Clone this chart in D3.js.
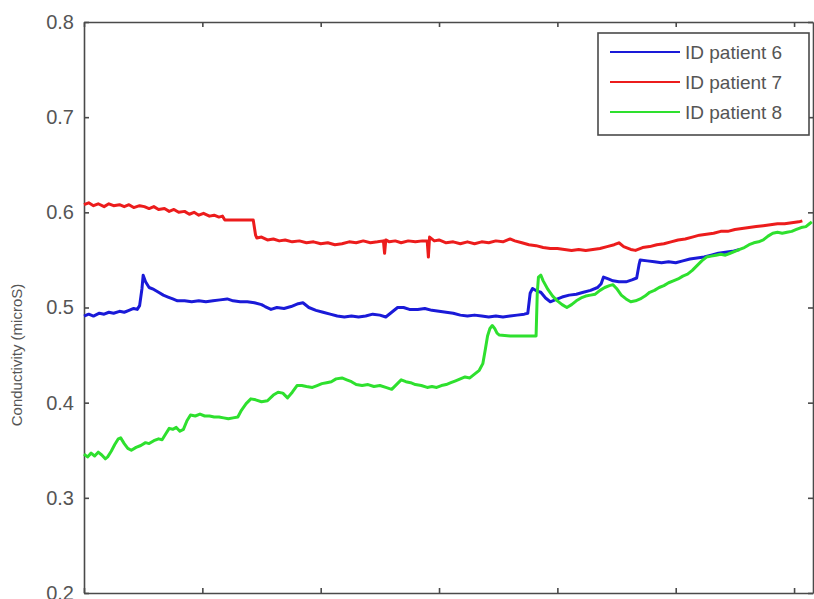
<html lang="en">
<head>
<meta charset="utf-8">
<style>
	body { margin: 0; background: #fff; }
	svg { display: block; font-family: "Liberation Sans", Arial, sans-serif; }
	.axis path, .axis line { stroke: #4a4a4a; stroke-width: 1.6; }
	.axis text { fill: #555; font-size: 20px; }
</style>
</head>
<body>
<svg width="814" height="599"></svg>
<script src="https://d3js.org/d3.v7.min.js"></script>
<script>
	// y ticks and legend
	var yTicks = [0.2, 0.3, 0.4, 0.5, 0.6, 0.7, 0.8];
	var xTicks = [0, 100, 200, 300, 400, 500, 600];
	var seriesNames = ["ID patient 6", "ID patient 7", "ID patient 8"];
	var seriesColors = ["#1a1ad8", "#ec1c1c", "#2ee02e"];

	// patient 6 (blue) [sample, conductivity]
	var patient6 = [
		[0,0.491],[4,0.493],[8,0.491],[13,0.494],[17,0.493],[21,0.495],[25,0.494],[30,0.496],[34,0.495],[38,0.497],
		[42,0.499],[45,0.498],[47,0.502],[49,0.520],[50,0.534],[52,0.527],[55,0.521],[59,0.519],[63,0.516],[67,0.513],
		[71,0.511],[75,0.509],[79,0.507],[85,0.507],[91,0.506],[97,0.507],[103,0.506],[109,0.507],[115,0.508],[121,0.509],
		[126,0.507],[132,0.506],[138,0.506],[144,0.505],[150,0.503],[153,0.501],[158,0.498],[163,0.500],[169,0.499],[175,0.501],
		[181,0.504],[185,0.505],[190,0.500],[196,0.497],[202,0.495],[208,0.493],[214,0.491],[220,0.490],[226,0.491],[232,0.490],
		[238,0.491],[244,0.493],[250,0.492],[255,0.490],[260,0.495],[265,0.500],[270,0.500],[275,0.498],[282,0.498],[288,0.499],
		[294,0.497],[300,0.496],[306,0.495],[312,0.494],[318,0.492],[324,0.491],[330,0.492],[336,0.491],[342,0.490],[348,0.491],
		[354,0.490],[360,0.491],[366,0.492],[372,0.493],[375,0.494],[377,0.515],[379,0.520],[383,0.517],[386,0.516],[390,0.510],
		[394,0.506],[398,0.508],[404,0.511],[410,0.513],[416,0.514],[422,0.516],[428,0.518],[434,0.521],[437,0.525],[439,0.532],
		[443,0.530],[447,0.528],[452,0.527],[458,0.527],[463,0.529],[467,0.531],[469,0.545],[470,0.550],[476,0.549],[482,0.548],
		[488,0.547],[494,0.548],[500,0.547],[506,0.549],[512,0.551],[518,0.552],[524,0.553],[530,0.555],[536,0.557],[542,0.558],
		[548,0.559],[554,0.561]
	];

	// patient 7 (red)
	var patient7 = [
		[0,0.608],[4,0.610],[8,0.607],[12,0.609],[17,0.606],[21,0.609],[25,0.607],[30,0.608],[34,0.606],[38,0.608],
		[42,0.605],[47,0.607],[51,0.606],[55,0.604],[59,0.606],[63,0.603],[68,0.604],[72,0.601],[76,0.603],[80,0.600],
		[85,0.601],[89,0.598],[93,0.600],[97,0.597],[101,0.599],[106,0.596],[110,0.597],[114,0.595],[117,0.596],[119,0.592],
		[125,0.592],[135,0.592],[143,0.592],[145,0.576],[146,0.573],[150,0.574],[155,0.571],[160,0.572],[165,0.570],[170,0.571],
		[176,0.569],[182,0.570],[188,0.568],[194,0.569],[200,0.567],[206,0.568],[212,0.566],[218,0.567],[224,0.569],[230,0.568],
		[236,0.570],[242,0.568],[248,0.569],[253,0.570],[254,0.557],[255,0.571],[258,0.569],[263,0.570],[268,0.568],[274,0.570],
		[280,0.569],[286,0.570],[290,0.570],[291,0.553],[292,0.574],[296,0.570],[300,0.571],[306,0.568],[312,0.569],[318,0.567],
		[324,0.569],[330,0.567],[336,0.569],[342,0.568],[348,0.570],[354,0.569],[360,0.572],[364,0.570],[370,0.568],[376,0.566],
		[382,0.565],[388,0.563],[394,0.562],[400,0.562],[406,0.561],[412,0.560],[418,0.561],[424,0.560],[430,0.561],[436,0.562],
		[442,0.564],[448,0.566],[452,0.568],[456,0.564],[462,0.561],[466,0.560],[472,0.563],[478,0.564],[484,0.566],[490,0.567],
		[496,0.569],[502,0.571],[508,0.572],[514,0.574],[520,0.576],[526,0.577],[532,0.578],[538,0.580],[544,0.580],[550,0.582],
		[556,0.583],[562,0.584],[568,0.585],[574,0.586],[580,0.587],[586,0.588],[592,0.588],[598,0.589],[604,0.590],[607,0.591]
	];

	// patient 8 (green)
	var patient8 = [
		[0,0.346],[3,0.343],[6,0.347],[9,0.344],[12,0.348],[15,0.345],[18,0.341],[20,0.343],[23,0.349],[26,0.356],
		[29,0.362],[31,0.363],[34,0.357],[37,0.352],[40,0.350],[44,0.353],[48,0.355],[52,0.358],[55,0.357],[59,0.360],
		[63,0.362],[66,0.361],[69,0.367],[72,0.373],[75,0.372],[78,0.374],[81,0.370],[84,0.372],[87,0.381],[90,0.387],
		[94,0.386],[98,0.388],[102,0.386],[106,0.386],[110,0.385],[114,0.385],[118,0.384],[122,0.383],[126,0.384],[130,0.385],
		[133,0.392],[137,0.399],[141,0.404],[145,0.403],[150,0.401],[155,0.402],[160,0.408],[164,0.411],[168,0.410],[172,0.405],
		[176,0.411],[180,0.418],[184,0.418],[188,0.417],[193,0.416],[197,0.418],[201,0.420],[205,0.421],[209,0.422],[213,0.425],
		[218,0.426],[222,0.424],[226,0.422],[230,0.419],[235,0.418],[240,0.419],[245,0.417],[250,0.418],[255,0.416],[260,0.414],
		[264,0.419],[268,0.424],[272,0.422],[276,0.421],[280,0.419],[285,0.418],[290,0.416],[294,0.417],[298,0.416],[302,0.418],
		[306,0.419],[310,0.421],[314,0.423],[318,0.425],[322,0.427],[326,0.426],[330,0.430],[334,0.434],[337,0.441],[339,0.455],
		[341,0.470],[343,0.478],[345,0.481],[347,0.478],[349,0.473],[351,0.471],[360,0.470],[370,0.470],[382,0.470],[383,0.515],
		[384,0.532],[386,0.534],[388,0.528],[392,0.519],[396,0.512],[400,0.507],[404,0.503],[408,0.500],[412,0.503],[416,0.507],
		[420,0.510],[424,0.512],[428,0.513],[432,0.514],[436,0.518],[440,0.521],[444,0.523],[447,0.524],[450,0.520],[454,0.513],
		[458,0.509],[462,0.506],[466,0.507],[470,0.509],[474,0.512],[478,0.516],[482,0.518],[486,0.521],[490,0.523],[494,0.526],
		[498,0.528],[502,0.530],[506,0.533],[510,0.535],[514,0.539],[518,0.544],[522,0.549],[526,0.553],[530,0.554],[534,0.555],
		[538,0.556],[542,0.555],[546,0.557],[550,0.559],[554,0.561],[558,0.563],[562,0.566],[566,0.568],[570,0.569],[574,0.571],
		[578,0.575],[582,0.578],[586,0.579],[590,0.578],[594,0.579],[598,0.580],[602,0.582],[606,0.584],[610,0.585],[613,0.588],
		[615,0.590]
	];

	var svg = d3.select("svg");
	var plotLeft = 84, plotTop = 22, plotRight = 813, plotBottom = 593;

	var x = d3.scaleLinear().domain([0, 616]).range([plotLeft, plotRight]);
	var y = d3.scaleLinear().domain([0.2, 0.8]).range([plotBottom, plotTop]);

	// plot box with inward ticks (matlab style)
	svg.append("g").attr("class", "axis")
		.attr("transform", "translate(" + plotLeft + ",0)")
		.call(d3.axisLeft(y).tickValues(yTicks).tickFormat(d3.format(".1f")).tickSizeInner(-5).tickSizeOuter(0).tickPadding(10));
	svg.append("g").attr("class", "axis")
		.attr("transform", "translate(" + plotRight + ",0)")
		.call(d3.axisRight(y).tickValues(yTicks).tickFormat("").tickSizeInner(-5).tickSizeOuter(0));
	svg.append("g").attr("class", "axis")
		.attr("transform", "translate(0," + plotBottom + ")")
		.call(d3.axisBottom(x).tickValues(xTicks).tickFormat("").tickSizeInner(-5).tickSizeOuter(0));
	svg.append("g").attr("class", "axis")
		.attr("transform", "translate(0," + plotTop + ")")
		.call(d3.axisTop(x).tickValues(xTicks).tickFormat("").tickSizeInner(-5).tickSizeOuter(0));

	svg.append("text")
		.attr("transform", "translate(22,355) rotate(-90)")
		.attr("text-anchor", "middle")
		.attr("fill", "#555")
		.attr("font-size", "15px")
		.text("Conductivity (microS)");

	var line = d3.line()
		.x(function(d) { return x(d[0]); })
		.y(function(d) { return y(d[1]); });

	var allSeries = [patient6, patient7, patient8];
	svg.selectAll(".series")
		.data(allSeries)
		.enter().append("path")
		.attr("class", "series")
		.attr("fill", "none")
		.attr("stroke", function(d, i) { return seriesColors[i]; })
		.attr("stroke-width", 3)
		.attr("stroke-linejoin", "round")
		.attr("d", line);

	// legend
	var lg = svg.append("g").attr("transform", "translate(598,33)");
	lg.append("rect")
		.attr("width", 211).attr("height", 102)
		.attr("fill", "#fff").attr("stroke", "#4a4a4a").attr("stroke-width", 1.6);
	seriesNames.forEach(function(name, i) {
		var ly = 19 + i * 30;
		lg.append("line")
			.attr("x1", 12).attr("x2", 82).attr("y1", ly).attr("y2", ly)
			.attr("stroke", seriesColors[i]).attr("stroke-width", 2);
		lg.append("text")
			.attr("x", 87).attr("y", ly).attr("dy", "0.35em")
			.attr("fill", "#555").attr("font-size", "19px")
			.text(name);
	});
</script>
</body>
</html>
